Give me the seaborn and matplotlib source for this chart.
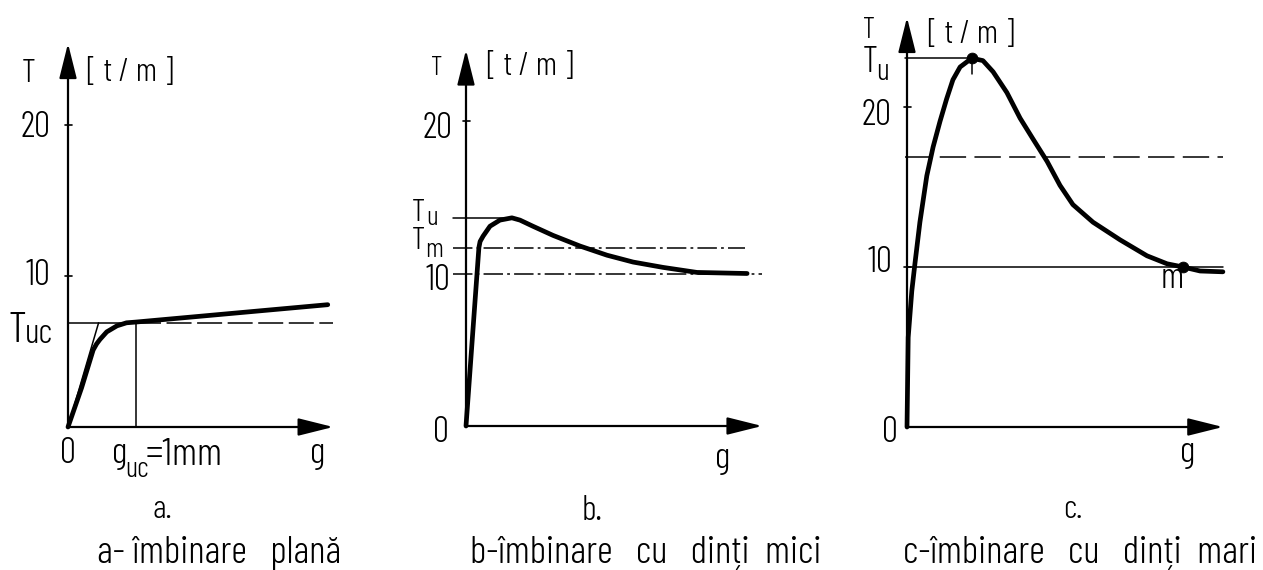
import matplotlib
matplotlib.use('Agg')
import matplotlib.pyplot as plt
import seaborn as sns
from matplotlib import font_manager

# a - imbinare plana (g in mm, T in t/m)
a_g = [0, 0.2, 0.37, 0.42, 0.47, 0.57, 0.72, 0.86, 1.0, 3.82]
a_T = [0, 2.6, 5.1, 5.5, 5.8, 6.3, 6.7, 6.9, 6.95, 8.1]
a_Tuc = 6.9
a_guc = 1.0
a_tan_g = [0, 0.45]
a_tan_T = [0, 6.9]

# b - imbinare cu dinti mici
b_g = [0, 0.43, 0.47, 0.57, 0.8, 1.13, 1.53, 1.8, 2.23, 2.9, 3.8, 4.7, 5.57, 6.57, 7.7, 9.37]
b_T = [0, 11.7, 12.1, 12.45, 13.1, 13.5, 13.65, 13.5, 13.1, 12.5, 11.8, 11.2, 10.75, 10.4, 10.07, 10.0]
b_Tu = 13.65
b_Tm = 11.7
b_T10 = 10.0

# c - imbinare cu dinti mari
c_g = [0, 0.04, 0.16, 0.27, 0.43, 0.66, 0.87, 1.1, 1.32, 1.53, 1.77, 2.16, 2.53, 2.87, 3.33,
       3.77, 4.2, 4.67, 5.1, 5.53, 6.2, 7.1, 8.0, 8.67, 9.2, 9.77, 10.53]
c_T = [0, 5.6, 8.5, 10.3, 12.8, 15.7, 17.5, 19.1, 20.5, 21.7, 22.5, 23.05, 22.9, 22.2, 20.9,
       19.3, 18.0, 16.6, 15.1, 13.9, 12.8, 11.7, 10.7, 10.2, 10.0, 9.75, 9.7]
c_Tu = 23.05
c_g_peak = 2.16
c_dash = 16.9
c_m_g = 9.2
c_m_T = 10.0

yticks = [10, 20]

sns.set_theme(style='white')
names = {f.name for f in font_manager.fontManager.ttflist}
cond = 'DejaVu Sans'
for cand in ['Barlow Condensed', 'Roboto Condensed', 'Liberation Sans Narrow']:
    if cand in names:
        cond = cand
        break
FAM = [cond, 'DejaVu Sans']
plt.rcParams['font.family'] = FAM
plt.rcParams['lines.scale_dashes'] = False

W, H = 1263, 570
fig = plt.figure(figsize=(W / 100, H / 100), dpi=100)
fig.patch.set_facecolor('white')


def panel(x0, y0, sx, sy, gmax, tmax):
    ax = fig.add_axes([x0 / W, 1 - y0 / H, sx * gmax / W, sy * tmax / H])
    ax.set_xlim(0, gmax)
    ax.set_ylim(0, tmax)
    ax.axis('off')
    # axes with arrow heads
    for end in [(gmax, 0), (0, tmax)]:
        ax.annotate('', xy=end, xytext=(0, 0),
                    arrowprops=dict(arrowstyle='-|>,head_length=1.8,head_width=0.45',
                                    mutation_scale=12, lw=1.6, color='black',
                                    shrinkA=0, shrinkB=0),
                    annotation_clip=False)
    return ax


def ptxt(px, py, s, size=22, ha='left', va='baseline', weight=300):
    fig.text(px / W, 1 - py / H, s, fontsize=size, ha=ha, va=va,
             family=FAM, fontweight=weight, color='black')


def ticks(ax, sx, vals):
    k = 3.5 / sx
    for t in vals:
        ax.plot([-k, k], [t, t], color='black', lw=1.2, clip_on=False)


thick = dict(color='black', lw=3.4, estimator=None, sort=False)
thin = dict(color='black', lw=1.1, clip_on=False)

# ---------------- panel a ----------------
sxa, sya = 68, 15.1
ax1 = panel(68, 427, sxa, sya, 3.9, 25.4)
ticks(ax1, sxa, yticks)
ax1.plot([0, a_guc], [a_Tuc, a_Tuc], **thin)
ax1.plot([a_guc, 3.9], [a_Tuc, a_Tuc], dashes=(18, 4), **thin)
ax1.plot([a_guc, a_guc], [0, a_Tuc], **thin)
ax1.plot(a_tan_g, a_tan_T, **thin)
sns.lineplot(x=a_g, y=a_T, ax=ax1, **thick)
ax1.lines[-1].set_clip_on(False)

ptxt(29, 82, 'T', size=24, ha='center')
ptxt(87, 81, '[ t / m ]', size=24)
ptxt(50, 137, '20', size=26, ha='right')
ptxt(50, 285, '10', size=26, ha='right')
ptxt(9, 342, 'T', size=31)
ptxt(25, 343, 'uc', size=25)
ptxt(68, 463, '0', size=26, ha='center')
ptxt(112, 463, 'g', size=27)
ptxt(125, 477, 'uc', size=21)
ptxt(146, 465, '=1mm', size=28)
ptxt(318, 463, 'g', size=27, ha='center')

# ---------------- panel b ----------------
sxb, syb = 30, 15.25
ax2 = panel(466, 426, sxb, syb, 9.87, 24.66)
ticks(ax2, sxb, [20])
ax2.plot([-0.43, 1.53], [b_Tu, b_Tu], **thin)
ax2.plot([-0.43, 9.3], [b_Tm, b_Tm], dashes=(14, 3, 2, 3), **thin)
ax2.plot([-0.43, 9.87], [b_T10, b_T10], dashes=(14, 3, 2, 3), **thin)
sns.lineplot(x=b_g, y=b_T, ax=ax2, **thick)
ax2.lines[-1].set_clip_on(False)

ptxt(437, 75, 'T', size=20, ha='center')
ptxt(487, 75, '[ t / m ]', size=24)
ptxt(452, 138, '20', size=26, ha='right')
ptxt(412, 221, 'T', size=23)
ptxt(426, 225, 'u', size=20)
ptxt(412, 249, 'T', size=23)
ptxt(425, 257, 'm', size=20)
ptxt(450, 290, '10', size=26, ha='right')
ptxt(441, 442, '0', size=26, ha='center')
ptxt(723, 468, 'g', size=27, ha='center')

# ---------------- panel c ----------------
sxc, syc = 30, 16
ax3 = panel(907, 427, sxc, syc, 10.53, 25.6)
ticks(ax3, sxc, yticks)
ax3.plot([-0.07, c_g_peak], [c_Tu, c_Tu], **thin)
ax3.plot([c_g_peak, c_g_peak], [c_Tu, c_Tu - 1.0], **thin)
ax3.plot([-0.07, 10.53], [c_dash, c_dash], dashes=(19, 6), **thin)
ax3.plot([0, 10.53], [c_m_T, c_m_T], **thin)
sns.lineplot(x=c_g, y=c_T, ax=ax3, **thick)
ax3.lines[-1].set_clip_on(False)
sns.scatterplot(x=[c_g_peak, c_m_g], y=[c_Tu, c_m_T], ax=ax3, color='black', s=60,
                edgecolor='black', zorder=5, clip_on=False)

ptxt(869, 38, 'T', size=21, ha='center')
ptxt(928, 43, '[ t / m ]', size=24)
ptxt(863, 72, 'T', size=26)
ptxt(876, 80, 'u', size=22)
ptxt(892, 125, '20', size=26, ha='right')
ptxt(892, 272, '10', size=26, ha='right')
ptxt(1172, 288, 'm', size=26, ha='center')
ptxt(890, 442, '0', size=26, ha='center')
ptxt(1188, 462, 'g', size=27, ha='center')

# ---------------- captions ----------------
ptxt(153, 518, 'a.', size=24)
ptxt(582, 520, 'b.', size=25)
ptxt(1063, 518, 'c.', size=24)
ptxt(97, 563, 'a- îmbinare   plană', size=28)
ptxt(470, 563, 'b-îmbinare   cu   dinți  mici', size=28)
ptxt(903, 563, 'c-îmbinare   cu   dinți  mari', size=28)

fig.savefig('out.png', dpi=100, facecolor='white')
